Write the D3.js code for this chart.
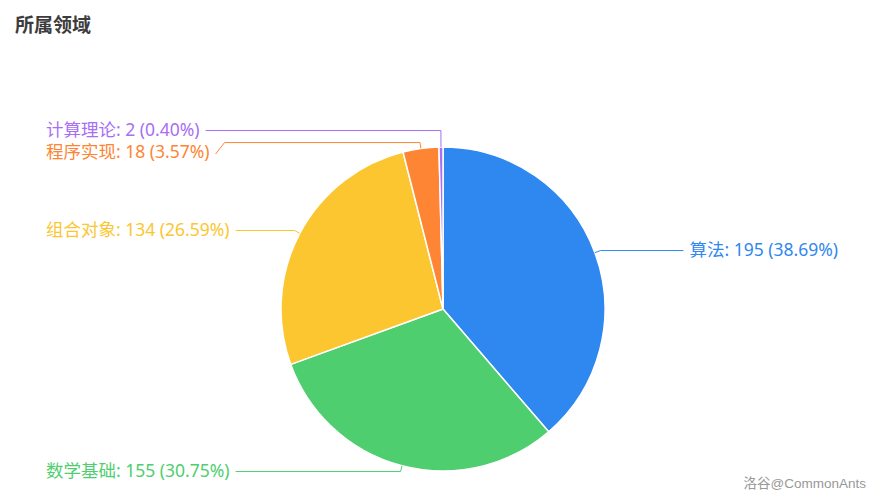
<!DOCTYPE html>
<html>
<head>
<meta charset="utf-8">
<script src="https://cdn.jsdelivr.net/npm/d3@7/dist/d3.min.js"></script>
<style>
  body { margin: 0; background: #fff; }
  svg { display: block; font-family: "Noto Sans", "Noto Sans CJK SC", sans-serif; }
</style>
</head>
<body>
<div id="chart"></div>
<script>
var categories = ["算法", "数学基础", "组合对象", "程序实现", "计算理论"];
var counts = [195, 155, 134, 18, 2];
var colors = ["#2f87f0", "#4fce6f", "#fcc630", "#fe8533", "#a86ef6"];

var width = 880, height = 504;
var cx = 443, cy = 309, radius = 162;
var edgeLeft = 46, edgeRight = 838;

var svg = d3.select("#chart")
  .append("svg")
  .attr("width", width)
  .attr("height", height);

// title
svg.append("text")
  .attr("x", 15)
  .attr("y", 32)
  .attr("font-size", 19)
  .attr("font-weight", "bold")
  .attr("font-family", "Noto Sans CJK SC, sans-serif")
  .attr("fill", "#3c3c3c")
  .text("所属领域");

// watermark
svg.append("text")
  .attr("x", 866)
  .attr("y", 488)
  .attr("text-anchor", "end")
  .attr("font-family", "Liberation Sans, Arial, Noto Sans CJK SC, sans-serif")
  .attr("font-size", 13.5)
  .attr("fill", "#999")
  .text("洛谷@CommonAnts");

var total = d3.sum(counts);
var data = categories.map(function (c, i) {
  return { name: c, value: counts[i], color: colors[i] };
});

var pie = d3.pie()
  .value(function (d) { return d.value })
  .sort(null);

var arcs = pie(data);

var arc = d3.arc().innerRadius(0).outerRadius(radius);

var g = svg.append("g")
  .attr("transform", "translate(" + cx + "," + cy + ")");

g.selectAll("path.slice")
  .data(arcs)
  .enter()
  .append("path")
  .attr("class", "slice")
  .attr("d", arc)
  .attr("fill", function (d) { return d.data.color })
  .attr("stroke", "#fff")
  .attr("stroke-width", 1.5)
  .attr("stroke-linejoin", "round");

// label anchor points
var labels = arcs.map(function (d) {
  var a = (d.startAngle + d.endAngle) / 2;
  var s = Math.sin(a), c = -Math.cos(a);
  var p0 = [radius * s, radius * c];
  var p1 = [(radius + 6) * s, (radius + 6) * c];
  var pct = (d.data.value / total * 100).toFixed(2);
  return {
    d: d,
    side: s >= 0 ? "right" : "left",
    p0: p0,
    p1: p1,
    y: p1[1],
    y0: p1[1],
    text: d.data.name + ": " + d.data.value + " (" + pct + "%)"
  };
});

// simple overlap fix per side
var spacing = 22.5;
["left", "right"].forEach(function (side) {
  var list = labels.filter(function (l) { return l.side == side })
    .sort(function (a, b) { return a.y - b.y });
  for (var iter = 0; iter < 20; iter++) {
    for (var i = 1; i < list.length; i++) {
      var gap = list[i].y - list[i - 1].y;
      if (gap < spacing) {
        var push = (spacing - gap) / 2;
        list[i - 1].y -= push;
        list[i].y += push;
      }
    }
  }
});

var lbl = g.selectAll("g.label")
  .data(labels)
  .enter()
  .append("g")
  .attr("class", "label");

lbl.append("text")
  .attr("x", function (l) { return l.side == "right" ? edgeRight - cx : edgeLeft - cx })
  .attr("y", function (l) { return l.y - 1 })
  .attr("dy", "0.35em")
  .attr("text-anchor", function (l) { return l.side == "right" ? "end" : "start" })
  .attr("font-size", 17.5)
  .attr("fill", function (l) { return l.d.data.color })
  .text(function (l) { return l.text })
  .each(function (l) { l.tw = this.getComputedTextLength() });

lbl.insert("path", "text")
  .attr("fill", "none")
  .attr("stroke", function (l) { return l.d.data.color })
  .attr("stroke-width", 1)
  .attr("d", function (l) {
    var dir = l.side == "right" ? 1 : -1;
    var tx = l.side == "right" ? edgeRight - cx - l.tw - 6 : edgeLeft - cx + l.tw + 6;
    var shift = l.y - l.y0;
    var pts;
    if (shift < -1) {
      pts = [l.p0, [l.p1[0], l.y], [tx, l.y]];
    } else if (shift > 1) {
      pts = [l.p0, l.p1, [tx - dir * 9, l.p1[1]], [tx, l.y + 1]];
    } else {
      pts = [l.p0, l.p1, [tx, l.p1[1]]];
    }
    return d3.line()(pts);
  });
</script>
</body>
</html>
